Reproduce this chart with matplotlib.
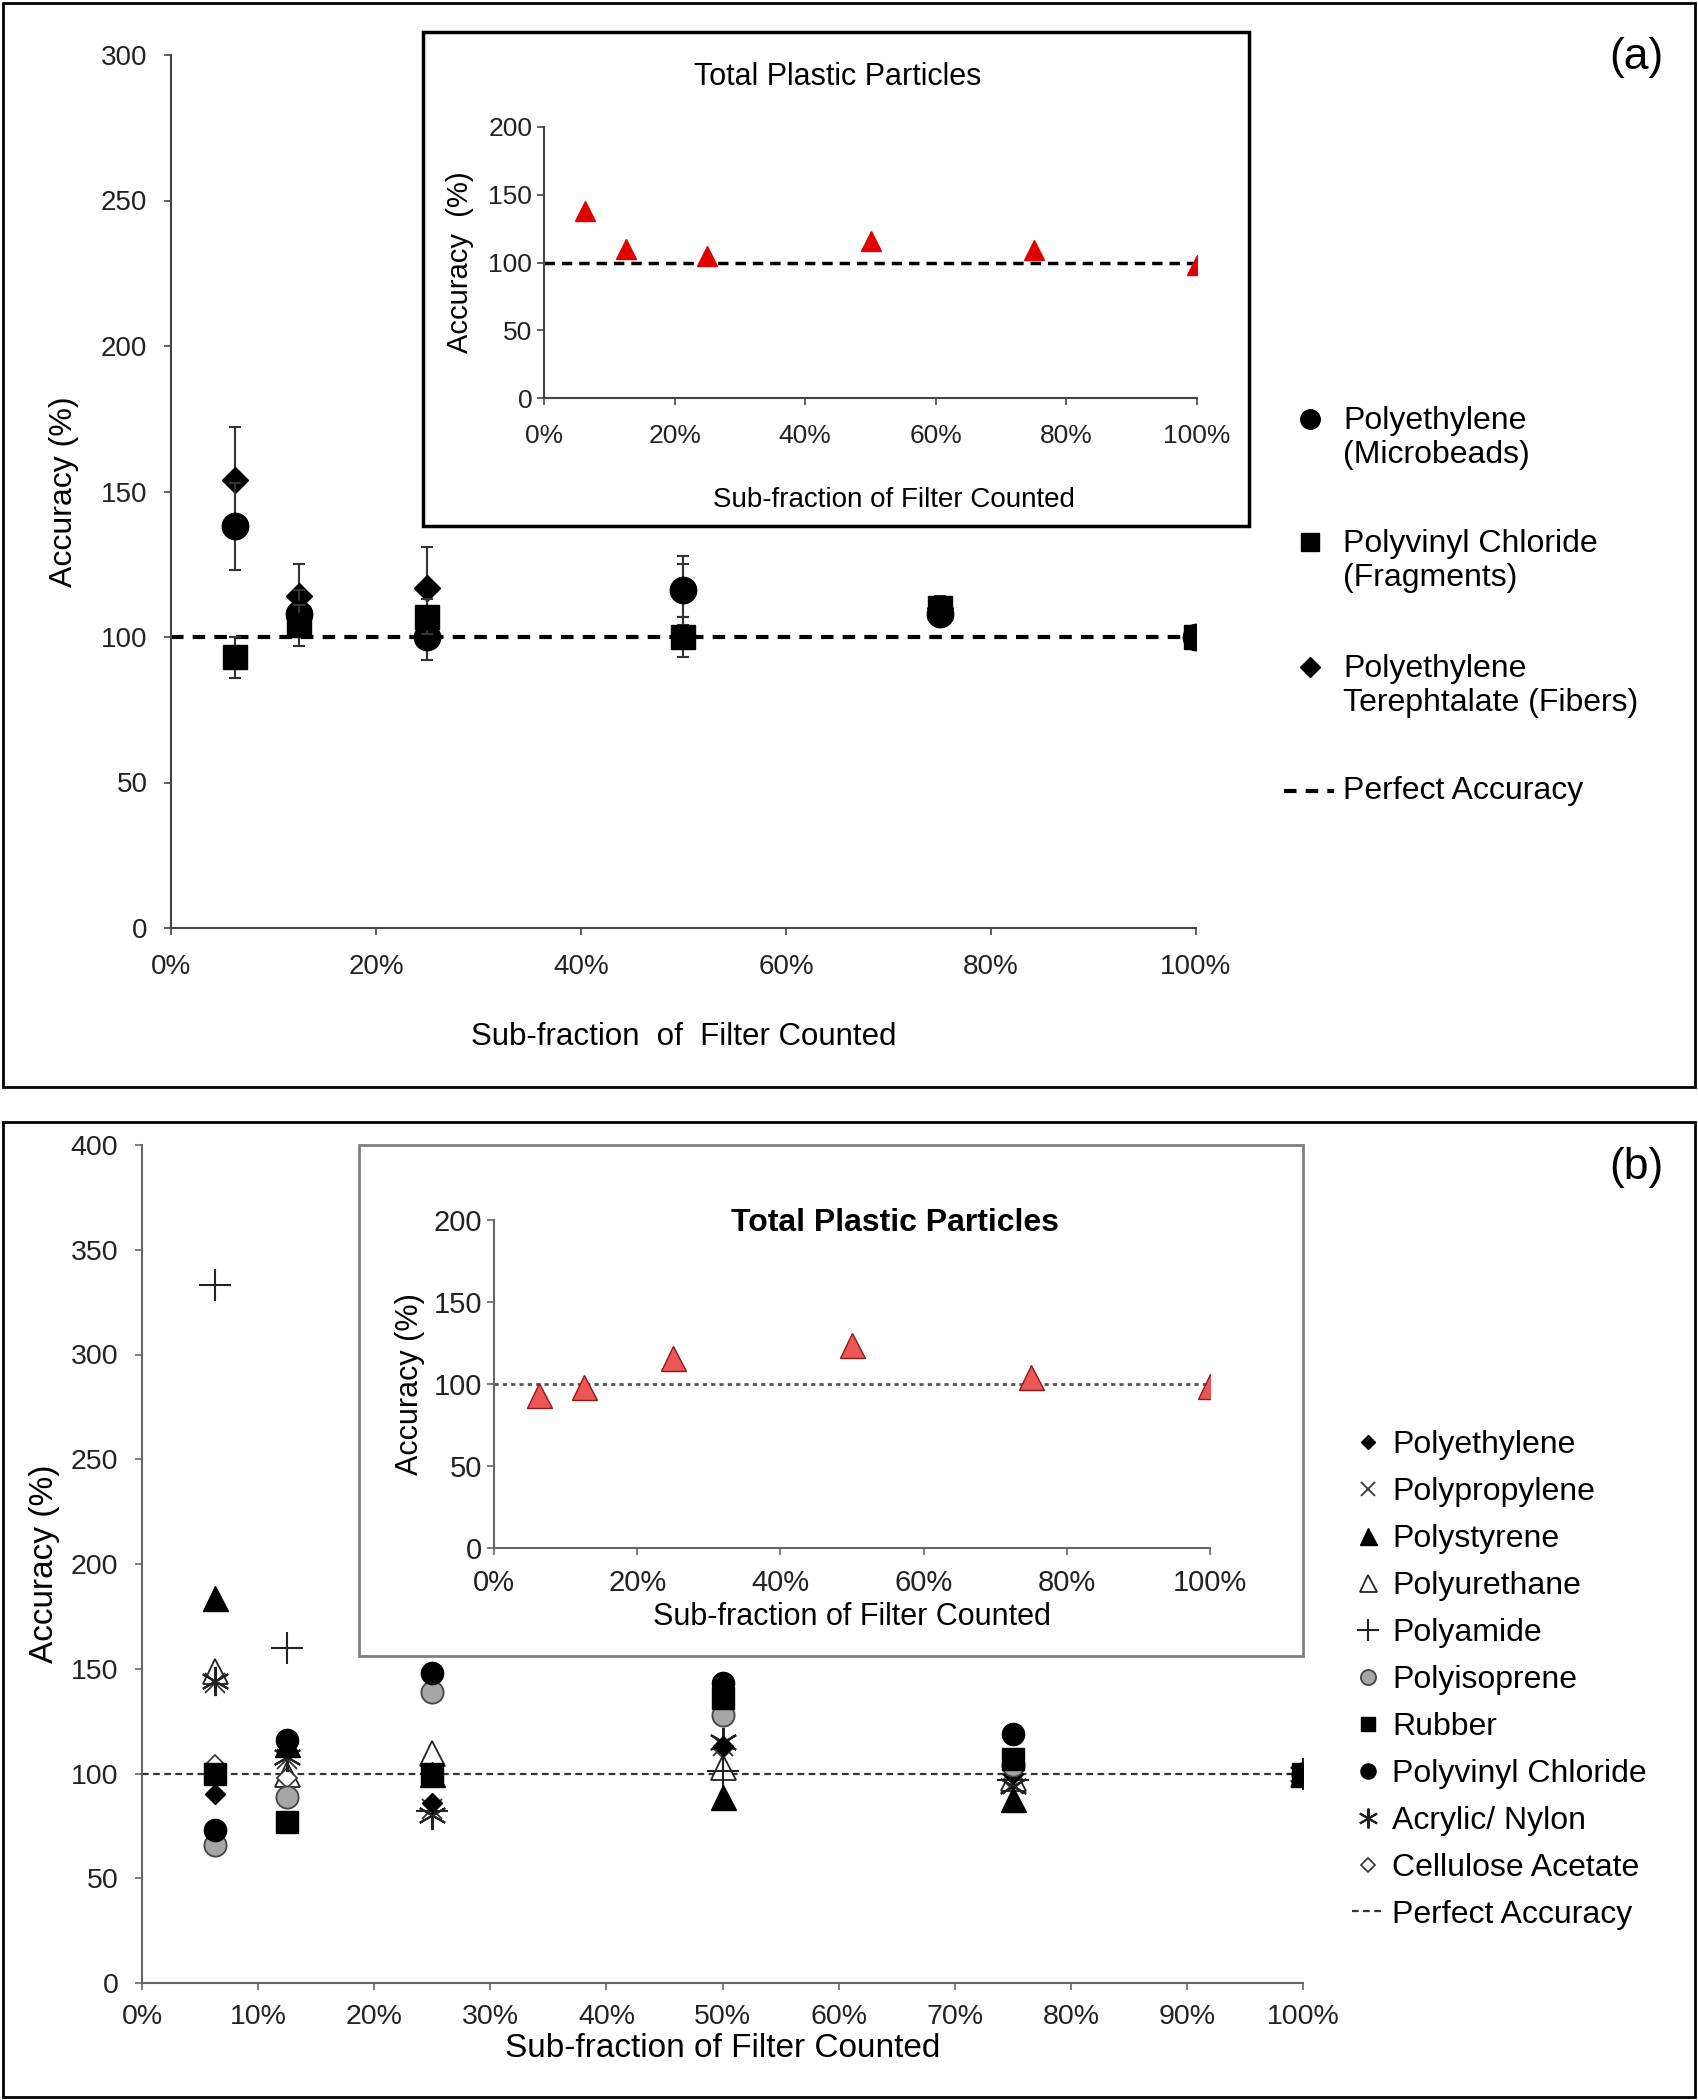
import matplotlib
matplotlib.use('Agg')
import matplotlib.pyplot as plt
from matplotlib.patches import Rectangle
from matplotlib.lines import Line2D
from matplotlib.ticker import FuncFormatter, MultipleLocator

plt.rcParams['font.family'] = ['Liberation Sans', 'DejaVu Sans']

# sub-fraction of filter counted (%)
frac = [6.25, 12.5, 25, 50, 75, 100]

# ---- panel (a) data ----
pe_beads = [138, 108, 100, 116, 108, 100]
pe_beads_err = [15, 8, 8, 12, 4, 0]
pvc_frag = [93, 104, 107, 100, 110, 100]
pvc_frag_err = [7, 7, 6, 7, 4, 0]
pet_fib = [154, 114, 117, 116, 110, 100]
pet_fib_err = [18, 11, 14, 9, 3, 0]
total_a = [138, 110, 105, 116, 109, 98]

# ---- panel (b) data ----
polyethylene = [90, 116, 86, 113, 100, 100]
polypropylene = [143, 107, 83, 113, 95, 100]
polystyrene = [184, 114, 100, 89, 88, 100]
polyurethane = [149, 100, 110, 103, 98, 100]
polyamide = [333, 160, 82, 101, 97, 100]
polyisoprene = [66, 89, 139, 128, 104, 100]
rubber = [100, 77, 100, 136, 107, 100]
pvc = [73, 116, 148, 143, 119, 100]
acrylic = [144, 108, 80, 115, 94, 100]
cellulose = [104, 98, 100, 112, 97, 100]
total_b = [93, 98, 116, 124, 104, 99]

pct = FuncFormatter(lambda v, p: '%d%%' % round(v))
W, H = 1698, 2100

fig = plt.figure(figsize=(16.98, 21), dpi=100)

# panel frames
fig.patches.append(Rectangle((3/W, 1-1087/H), 1692/W, 1084/H,
                             transform=fig.transFigure, fill=False, ec='black', lw=2))
fig.patches.append(Rectangle((3/W, 3/H), 1692/W, 975/H,
                             transform=fig.transFigure, fill=False, ec='black', lw=2))


def style_axes(ax, color='#444444', fs=20):
    ax.spines['top'].set_visible(False)
    ax.spines['right'].set_visible(False)
    ax.spines['left'].set_color(color)
    ax.spines['bottom'].set_color(color)
    ax.spines['left'].set_linewidth(1.5)
    ax.spines['bottom'].set_linewidth(1.5)
    ax.tick_params(direction='out', length=5, width=1.2, color=color,
                   labelsize=fs, labelcolor='#222222')


# ================= panel (a) =================
axa = fig.add_axes([171/W, 1-928/H, 1025/W, 873/H])
style_axes(axa, fs=20)
axa.set_xlim(0, 100)
axa.set_ylim(0, 300)
axa.xaxis.set_major_locator(MultipleLocator(20))
axa.yaxis.set_major_locator(MultipleLocator(50))
axa.xaxis.set_major_formatter(pct)
axa.tick_params(axis='x', pad=14)
axa.tick_params(axis='y', pad=12)
axa.axhline(100, color='black', lw=3, ls=(0, (3, 2.2)), zorder=1)
ebk = dict(ecolor='#333333', elinewidth=1.5, capsize=4, capthick=1.5, ls='none')
axa.errorbar(frac, pet_fib, yerr=pet_fib_err, marker='D', ms=13, color='black', zorder=3, **ebk)
axa.errorbar(frac, pe_beads, yerr=pe_beads_err, marker='o', ms=19, color='black', zorder=4, **ebk)
axa.errorbar(frac, pvc_frag, yerr=pvc_frag_err, marker='s', ms=17, color='black', zorder=5, **ebk)
axa.set_ylabel('Accuracy (%)', fontsize=23, labelpad=16)
axa.set_xlabel('Sub-fraction  of  Filter Counted', fontsize=22.5, labelpad=30)
fig.text(1636/W, 1-58/H, '(a)', fontsize=32, ha='center', va='center')

# legend (a), marker aligned with first line of each label
leg_a = [
    (dict(marker='o', ms=14), 'Polyethylene\n(Microbeads)', 419),
    (dict(marker='s', ms=13), 'Polyvinyl Chloride\n(Fragments)', 542),
    (dict(marker='D', ms=10), 'Polyethylene\nTerephtalate (Fibers)', 667),
]
for kw, lab, y in leg_a:
    fig.add_artist(Line2D([1310/W], [1-y/H], transform=fig.transFigure,
                          color='black', ls='none', **kw))
    fig.text(1343/W, 1-(y + 19)/H, lab, fontsize=23, va='center', ha='left',
             linespacing=1.15)
fig.add_artist(Line2D([1284/W, 1334/W], [1-791/H, 1-791/H], transform=fig.transFigure,
                      color='black', lw=3, ls=(0, (3, 2.2))))
fig.text(1343/W, 1-791/H, 'Perfect Accuracy', fontsize=23, va='center', ha='left')

# inset (a)
fig.patches.append(Rectangle((423/W, 1-526/H), 826/W, 494/H,
                             transform=fig.transFigure, fill=True, fc='white',
                             ec='black', lw=2.5, zorder=2))
ina = fig.add_axes([544/W, 1-398/H, 653/W, 271/H], zorder=3)
style_axes(ina, fs=19)
ina.set_xlim(0, 100)
ina.set_ylim(0, 200)
ina.xaxis.set_major_locator(MultipleLocator(20))
ina.yaxis.set_major_locator(MultipleLocator(50))
ina.xaxis.set_major_formatter(pct)
ina.tick_params(axis='x', pad=14)
ina.axhline(100, color='black', lw=2.5, ls=(0, (3, 2)), zorder=1)
ina.plot(frac, total_a, ls='none', marker='^', ms=14, color='#e00000', zorder=3)
ina.set_title('Total Plastic Particles', fontsize=22, pad=30, x=0.449)
ina.set_ylabel('Accuracy  (%)', fontsize=21, labelpad=10)
ina.set_xlabel('Sub-fraction of Filter Counted', fontsize=20, labelpad=22)
ina.xaxis.set_label_coords(0.536, -0.33)

# ================= panel (b) =================
axb = fig.add_axes([142/W, 1-1983/H, 1161/W, 838/H])
style_axes(axb, color='#666666', fs=20.5)
axb.set_xlim(0, 100)
axb.set_ylim(0, 400)
axb.xaxis.set_major_locator(MultipleLocator(10))
axb.yaxis.set_major_locator(MultipleLocator(50))
axb.xaxis.set_major_formatter(pct)
axb.tick_params(axis='x', pad=10)
axb.tick_params(axis='y', pad=12)
axb.axhline(100, color='#333333', lw=1.6, ls=(0, (3, 2)), zorder=1)

series_b = [
    ('Polyethylene', polyethylene, dict(marker='D', ms=10, mfc='black', mec='black')),
    ('Polypropylene', polypropylene, dict(marker='x', ms=15, mew=1.3, mec='#333333')),
    ('Polystyrene', polystyrene, dict(marker='^', ms=18, mfc='black', mec='black')),
    ('Polyurethane', polyurethane, dict(marker='^', ms=18, mfc='white', mec='#222222', mew=1.3)),
    ('Polyamide', polyamide, dict(marker='+', ms=23, mew=1.5, mec='#222222')),
    ('Polyisoprene', polyisoprene, dict(marker='o', ms=16, mfc='#a6a6a6', mec='#444444', mew=1.3)),
    ('Rubber', rubber, dict(marker='s', ms=15.5, mfc='black', mec='black')),
    ('Polyvinyl Chloride', pvc, dict(marker='o', ms=16, mfc='black', mec='black')),
    ('Acrylic/ Nylon', acrylic, dict(marker=(6, 2, 0), ms=21, mew=1.5, mec='#222222')),
    ('Cellulose Acetate', cellulose, dict(marker='D', ms=10, mfc='white', mec='#333333', mew=1.2)),
]
order = [3, 9, 4, 1, 8, 0, 2, 5, 6, 7]
for i in order:
    name, vals, kw = series_b[i]
    axb.plot(frac, vals, ls='none', zorder=3 + order.index(i), **kw)

axb.set_ylabel('Accuracy (%)', fontsize=24, labelpad=8)
axb.set_xlabel('Sub-fraction of Filter Counted', fontsize=24, labelpad=2)
fig.text(1636/W, 1-1168/H, '(b)', fontsize=32, ha='center', va='center')

hand_b = []
for name, vals, kw in series_b:
    k = dict(kw)
    k['ms'] = k['ms'] * 0.68
    hand_b.append(Line2D([], [], ls='none', **k))
hand_b.append(Line2D([], [], color='#333333', lw=1.6, ls=(0, (3, 2))))
lab_b = [s[0] for s in series_b] + ['Perfect Accuracy']
fig.legend(hand_b, lab_b, loc='center left', bbox_to_anchor=(1352/W, 1-1680/H),
           frameon=False, fontsize=23, handlelength=1.0, handletextpad=0.25,
           labelspacing=0.53, borderpad=0, borderaxespad=0)

# inset (b)
fig.patches.append(Rectangle((359/W, 1-1656/H), 944/W, 511/H,
                             transform=fig.transFigure, fill=True, fc='white',
                             ec='#7f7f7f', lw=2, zorder=2))
inb = fig.add_axes([494/W, 1-1548/H, 716/W, 328/H], zorder=3)
style_axes(inb, color='#666666', fs=21)
inb.set_xlim(0, 100)
inb.set_ylim(0, 200)
inb.xaxis.set_major_locator(MultipleLocator(20))
inb.yaxis.set_major_locator(MultipleLocator(50))
inb.xaxis.set_major_formatter(pct)
inb.tick_params(axis='x', pad=10)
inb.axhline(100, color='#555555', lw=2, ls=(0, (1.5, 1.5)), zorder=1)
inb.plot(frac, total_b, ls='none', marker='^', ms=18, mfc='#ee5555', mec='#8b1a1a',
         mew=1, zorder=3)
inb.text(0.56, 0.99, 'Total Plastic Particles', transform=inb.transAxes, ha='center',
         va='center', fontsize=23, fontweight='bold')
inb.set_ylabel('Accuracy (%)', fontsize=22, labelpad=6)
inb.set_xlabel('Sub-fraction of Filter Counted', fontsize=22, labelpad=4)

fig.savefig('out.png', dpi=100)
